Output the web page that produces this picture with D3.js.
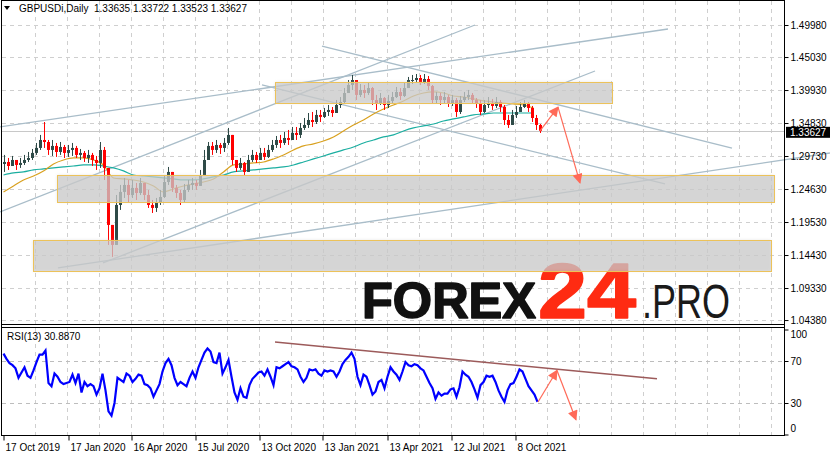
<!DOCTYPE html>
<html><head><meta charset="utf-8">
<script src="https://cdn.jsdelivr.net/npm/d3@7/dist/d3.min.js"></script>
<style>
body{margin:0;background:#fff}
svg{display:block}
text{font-family:"Liberation Sans",Arial,sans-serif}
</style>
</head><body>
<svg id="c" width="830" height="456"></svg>
<script>
// ---------------- DATA ----------------
const symbol = "GBPUSDi,Daily";
const lastBar = [1.33635, 1.33722, 1.33523, 1.33627];
const rsiLabel = "RSI(13) 30.8870";
const barsPerCandle = 4;
const firstOpen = 1.2850;
const closes = [
1.2881,1.2819,1.2912,1.2835,1.2866,1.2912,1.2943,1.3021,1.3098,1.3221,
1.3190,1.3067,1.3129,1.3036,1.3113,1.3021,1.3067,1.3098,1.2990,1.3021,
1.2943,1.2990,1.2912,1.2866,1.3067,1.2789,1.1908,1.1599,1.2217,1.2418,
1.2526,1.2371,1.2480,1.2402,1.2557,1.2371,1.2217,1.2171,1.2248,1.2340,
1.2572,1.2727,1.2480,1.2402,1.2294,1.2449,1.2526,1.2557,1.2511,1.2680,
1.2912,1.3129,1.3067,1.3144,1.3098,1.3175,1.3299,1.2912,1.2789,1.2866,
1.2727,1.2912,1.2990,1.2912,1.3021,1.2959,1.3067,1.3144,1.3221,1.3175,
1.3252,1.3221,1.3330,1.3299,1.3407,1.3453,1.3530,1.3499,1.3608,1.3577,
1.3654,1.3685,1.3638,1.3762,1.3808,1.3947,1.4071,1.4148,1.3917,1.3994,
1.3947,1.4024,1.3839,1.3793,1.3870,1.3762,1.3824,1.3885,1.3963,1.3901,
1.4024,1.4148,1.4148,1.4179,1.4117,1.4164,1.4055,1.3839,1.3901,1.3839,
1.3885,1.3793,1.3839,1.3654,1.3839,1.3885,1.3917,1.3839,1.3793,1.3654,
1.3762,1.3793,1.3747,1.3808,1.3731,1.3530,1.3453,1.3608,1.3654,1.3731,
1.3777,1.3716,1.3561,1.3453,1.33627];
const highs = [
1.2990,1.2943,1.2974,1.2912,1.2943,1.2990,1.3036,1.3082,1.3175,1.3299,
1.3499,1.3221,1.3221,1.3175,1.3190,1.3144,1.3144,1.3175,1.3129,1.3082,
1.3051,1.3067,1.3021,1.2974,1.3190,1.3113,1.2603,1.1831,1.2371,1.2526,
1.2634,1.2603,1.2603,1.2557,1.2634,1.2526,1.2449,1.2294,1.2325,1.2449,
1.2680,1.2804,1.2727,1.2526,1.2449,1.2541,1.2603,1.2634,1.2603,1.2758,
1.3067,1.3190,1.3190,1.3221,1.3175,1.3252,1.3407,1.3299,1.2912,1.2943,
1.2881,1.2990,1.3067,1.3036,1.3098,1.3098,1.3144,1.3221,1.3283,1.3299,
1.3345,1.3376,1.3422,1.3422,1.3484,1.3561,1.3638,1.3654,1.3685,1.3685,
1.3716,1.3762,1.3731,1.3839,1.3885,1.4024,1.4148,1.4226,1.4148,1.4086,
1.4071,1.4102,1.4040,1.3917,1.3947,1.3885,1.3917,1.3963,1.4040,1.4024,
1.4117,1.4195,1.4226,1.4241,1.4226,1.4241,1.4210,1.4071,1.3963,1.3947,
1.3963,1.3917,1.3917,1.3870,1.3901,1.3963,1.3994,1.3947,1.3870,1.3839,
1.3839,1.3885,1.3855,1.3885,1.3839,1.3762,1.3608,1.3685,1.3747,1.3808,
1.3839,1.3808,1.3747,1.3608,1.3468];
const lows = [
1.2727,1.2758,1.2819,1.2758,1.2789,1.2835,1.2881,1.2912,1.2990,1.3067,
1.3098,1.2990,1.2974,1.2959,1.2990,1.2943,1.2959,1.2974,1.2943,1.2912,
1.2881,1.2866,1.2819,1.2758,1.2789,1.2603,1.1599,1.1414,1.1676,1.2140,
1.2325,1.2248,1.2325,1.2294,1.2371,1.2294,1.2171,1.2093,1.2109,1.2217,
1.2325,1.2526,1.2418,1.2325,1.2217,1.2248,1.2418,1.2449,1.2449,1.2511,
1.2680,1.2912,1.2990,1.3021,1.3005,1.3036,1.3144,1.2835,1.2727,1.2758,
1.2680,1.2727,1.2881,1.2866,1.2912,1.2912,1.2943,1.3036,1.3098,1.3098,
1.3144,1.3144,1.3221,1.3221,1.3252,1.3376,1.3407,1.3422,1.3468,1.3499,
1.3561,1.3592,1.3577,1.3654,1.3716,1.3777,1.3963,1.3994,1.3839,1.3885,
1.3870,1.3917,1.3762,1.3685,1.3762,1.3685,1.3716,1.3793,1.3870,1.3839,
1.3885,1.4024,1.4086,1.4102,1.4071,1.4086,1.3994,1.3777,1.3793,1.3762,
1.3777,1.3731,1.3747,1.3577,1.3623,1.3808,1.3839,1.3777,1.3716,1.3608,
1.3638,1.3716,1.3685,1.3716,1.3654,1.3453,1.3407,1.3530,1.3561,1.3654,
1.3716,1.3654,1.3499,1.3376,1.3329];
const maStep = 10;
const maFast = [
1.2418,1.2510,1.2603,1.2665,1.2743,1.2850,1.2912,1.2943,1.2943,1.2912,
1.2835,1.2634,1.2619,1.2603,1.2572,1.2510,1.2418,1.2464,1.2510,1.2541,
1.2572,1.2619,1.2727,1.2835,1.2850,1.2866,1.2881,1.2928,1.2990,1.3067,
1.3129,1.3160,1.3206,1.3268,1.3360,1.3453,1.3530,1.3623,1.3700,1.3762,
1.3824,1.3901,1.3947,1.3963,1.3947,1.3901,1.3885,1.3855,1.3824,1.3808,
1.3793,1.3777,1.3762,1.3716];
const maSlow = [
1.2680,1.2712,1.2727,1.2758,1.2773,1.2789,1.2804,1.2819,1.2835,1.2835,
1.2819,1.2789,1.2743,1.2680,1.2665,1.2650,1.2634,1.2619,1.2603,1.2603,
1.2619,1.2650,1.2680,1.2727,1.2743,1.2758,1.2773,1.2789,1.2804,1.2835,
1.2881,1.2928,1.2974,1.3021,1.3067,1.3113,1.3175,1.3221,1.3268,1.3299,
1.3360,1.3407,1.3438,1.3468,1.3515,1.3546,1.3577,1.3608,1.3623,1.3638,
1.3638,1.3638,1.3638,1.3638];
const rsiStep = 3;
const rsiValues = [
77,72,68,66,63,54,59,64,56,54, 61,69,76,76,80,49,46,58,55,50,
48,49,50,57,49,58,40,50,46,48, 46,38,44,58,42,22,18,30,54,52,
50,58,56,50,53,57,56,48,47,44, 36,42,48,60,68,72,66,54,47,50,
48,46,54,60,54,64,71,78,82,79, 69,68,78,58,64,71,55,40,33,44,
36,35,47,53,56,59,60,56,62,55, 47,64,63,65,67,69,65,64,62,55,
50,54,62,61,62,58,56,61,60,61, 60,55,60,67,71,74,78,72,55,47,
57,55,47,38,41,50,52,44,55,64, 60,57,52,60,69,66,65,67,66,63,
61,55,49,44,34,40,37,39,39,43, 44,36,45,60,57,55,50,43,35,47,
50,56,55,56,50,42,36,31,42,48, 49,55,62,60,53,46,42,38,31];
const priceTicks = [1.4998,1.4503,1.3993,1.3483,1.2973,1.2463,1.1953,1.1443,1.0933,1.0438];
const rsiTicks = [100,70,30,0];
const rsiLevels = [70,30];
const dateLabels = ["17 Oct 2019","17 Jan 2020","16 Apr 2020","15 Jul 2020","13 Oct 2020","13 Jan 2021","13 Apr 2021","12 Jul 2021","8 Oct 2021"];
const dateBars = [0,65,128,192,256,319,384,448,512];
// zones: [startBar, endBar, upperPrice, lowerPrice]
const zones = [[272,609,1.4117,1.3793],[54,771,1.2680,1.2263],[30,768,1.1676,1.1197]];
// trend lines: [[bar, price],[bar, price]]
const trendLines = [
 [[-3,1.3422],[665,1.4936]],
 [[-3,1.2109],[472,1.4998]],
 [[55,1.1243],[827,1.3020]],
 [[100,1.1321],[592,1.4287]],
 [[319,1.4673],[729,1.3097]],
 [[259,1.4071],[662,1.2541]]];
const rsiTrend = [[272,88],[654,53]];
const priceArrows = [[[537,1.3361],[555,1.3729]],[[555,1.3729],[577,1.2557]]];
const rsiArrows = [[[535,31],[554,61]],[[554,61],[573,14]]];

// ---------------- DRAW ----------------
const svg = d3.select("#c");
const W = 830, axisX = 784;
const x = d3.scaleLinear().domain([0,781]).range([3,784]);
const y = d3.scaleLinear().domain([1.0377,1.5369]).range([324,1]);
const yr = d3.scaleLinear().domain([0,100]).range([434.5,329.5]);
const gridC = "#cfcfcf";

const defs = svg.append("defs");
defs.append("clipPath").attr("id","mainClip").append("rect").attr("x",2).attr("y",1).attr("width",782).attr("height",323);
defs.append("clipPath").attr("id","rsiClip").append("rect").attr("x",2).attr("y",328).attr("width",782).attr("height",107);
const mk = defs.append("marker").attr("id","ah").attr("viewBox","0 0 10 10").attr("refX",9).attr("refY",5)
  .attr("markerWidth",11).attr("markerHeight",10).attr("markerUnits","userSpaceOnUse").attr("orient","auto");
mk.append("path").attr("d","M0,0 L10,5 L0,10 Z").attr("fill","#ff6a58");
const sh = defs.append("filter").attr("id","soft").attr("x","-5%").attr("y","-30%").attr("width","110%").attr("height","160%");
sh.append("feGaussianBlur").attr("stdDeviation",1.5);

// grid
const vGrid = d3.range(32, 781, 32);
const grid = svg.append("g");
grid.selectAll(".vg").data(vGrid).join("line")
  .attr("x1",d=>Math.round(x(d))+0.5).attr("x2",d=>Math.round(x(d))+0.5).attr("y1",1).attr("y2",324)
  .attr("stroke",gridC).attr("stroke-dasharray","4,4");
grid.selectAll(".vg2").data(vGrid).join("line")
  .attr("x1",d=>Math.round(x(d))+0.5).attr("x2",d=>Math.round(x(d))+0.5).attr("y1",328).attr("y2",435)
  .attr("stroke",gridC).attr("stroke-dasharray","4,4");
grid.selectAll(".hg").data(priceTicks).join("line")
  .attr("x1",2).attr("x2",axisX).attr("y1",d=>Math.round(y(d))+0.5).attr("y2",d=>Math.round(y(d))+0.5)
  .attr("stroke",gridC).attr("stroke-dasharray","4,4");
grid.selectAll(".rg").data(rsiLevels).join("line")
  .attr("x1",2).attr("x2",axisX).attr("y1",d=>Math.round(yr(d))+0.5).attr("y2",d=>Math.round(yr(d))+0.5)
  .attr("stroke","#bdbdbd").attr("stroke-dasharray","4,4");

// logo
const logo = svg.append("g");
logo.append("text").attr("x",362).attr("y",318).attr("font-size",50).attr("font-weight",900)
  .attr("font-family","Lato, Roboto, 'Open Sans', sans-serif").attr("fill","#111")
  .attr("stroke","#111").attr("stroke-width",1.6).attr("stroke-linejoin","round")
  .attr("textLength",174).attr("lengthAdjust","spacingAndGlyphs").text("FOREX");
logo.append("text").attr("x",538).attr("y",318).attr("font-size",78).attr("font-weight",900)
  .attr("font-family","Lato, Roboto, 'Open Sans', sans-serif").attr("fill","#ff2b12")
  .attr("stroke","#ff2b12").attr("stroke-width",1.6).attr("stroke-linejoin","round")
  .attr("textLength",98).attr("lengthAdjust","spacingAndGlyphs").text("24");
logo.append("text").attr("x",642).attr("y",318).attr("font-size",49).attr("font-weight",300)
  .attr("font-family","Lato, Roboto, 'Open Sans', sans-serif").attr("fill","#1a1a1a")
  .attr("textLength",88).attr("lengthAdjust","spacingAndGlyphs").text(".PRO");

// bid line
svg.append("line").attr("x1",2).attr("x2",axisX).attr("y1",Math.round(y(lastBar[3]))+0.5).attr("y2",Math.round(y(lastBar[3]))+0.5)
  .attr("stroke","#c8c8c8");

// trend lines
const tl = svg.append("g");
tl.selectAll("line").data(trendLines).join("line")
  .attr("x1",d=>x(d[0][0])).attr("y1",d=>y(d[0][1])).attr("x2",d=>x(d[1][0])).attr("y2",d=>y(d[1][1]))
  .attr("stroke","#a9bdc9").attr("stroke-width",1.3);

// moving averages
const main = svg.append("g").attr("clip-path","url(#mainClip)");
const maLine = d3.line().x((d,i)=>x(i*maStep)+0.5).y(d=>y(d)).curve(d3.curveMonotoneX);
main.append("path").attr("d",maLine(maSlow)).attr("fill","none").attr("stroke","#1aaea0").attr("stroke-width",1.2);
main.append("path").attr("d",maLine(maFast)).attr("fill","none").attr("stroke","#d9a11f").attr("stroke-width",1.2);

// candles
const candles = closes.map((c,k)=>{
  const o = k===0 ? firstOpen : closes[k-1];
  return {k, o, c, h: Math.max(highs[k],o,c), l: Math.min(lows[k],o,c)};
});
const cg = main.append("g");
cg.selectAll(".w").data(candles).join("line")
  .attr("x1",d=>x(d.k*barsPerCandle)+1.5).attr("x2",d=>x(d.k*barsPerCandle)+1.5)
  .attr("y1",d=>y(d.h)).attr("y2",d=>y(d.l))
  .attr("stroke",d=>d.c>=d.o?"#2e4a47":"#ff0000").attr("stroke-width",1);
cg.selectAll(".b").data(candles).join("rect")
  .attr("x",d=>x(d.k*barsPerCandle)).attr("width",3)
  .attr("y",d=>y(Math.max(d.o,d.c))).attr("height",d=>Math.max(1,Math.abs(y(d.o)-y(d.c))))
  .attr("fill",d=>d.c>=d.o?"#2e4a47":"#ff0000");

// zones
const zg = svg.append("g");
zg.selectAll(".zs").data(zones).join("rect")
  .attr("x",d=>x(d[0])).attr("y",d=>y(d[2])).attr("width",d=>x(d[1])-x(d[0])).attr("height",d=>y(d[3])-y(d[2]))
  .attr("fill","#bdbdbd").attr("opacity",0.35).attr("filter","url(#soft)");
zg.selectAll(".z").data(zones).join("rect")
  .attr("x",d=>x(d[0])+0.5).attr("y",d=>Math.round(y(d[2]))+0.5).attr("width",d=>x(d[1])-x(d[0])).attr("height",d=>Math.round(y(d[3])-y(d[2])))
  .attr("fill","#cbcbcb").attr("fill-opacity",0.65).attr("stroke","#ecc25a").attr("stroke-width",1);

// price arrows
svg.append("g").selectAll("line").data(priceArrows).join("line")
  .attr("x1",d=>x(d[0][0])).attr("y1",d=>y(d[0][1])).attr("x2",d=>x(d[1][0])).attr("y2",d=>y(d[1][1]))
  .attr("stroke","#ff6a58").attr("stroke-width",1.2).attr("marker-end","url(#ah)");

// RSI
const rsiG = svg.append("g").attr("clip-path","url(#rsiClip)");
rsiG.append("line").attr("x1",x(rsiTrend[0][0])).attr("y1",yr(rsiTrend[0][1])).attr("x2",x(rsiTrend[1][0])).attr("y2",yr(rsiTrend[1][1]))
  .attr("stroke","#9c5a5a").attr("stroke-width",1.5);
const rsiLine = d3.line().x((d,i)=>x(i*rsiStep)+0.5).y(d=>yr(d));
rsiG.append("path").attr("d",rsiLine(rsiValues)).attr("fill","none").attr("stroke","#0000ff").attr("stroke-width",2.2).attr("stroke-linejoin","miter");
svg.append("g").selectAll("line").data(rsiArrows).join("line")
  .attr("x1",d=>x(d[0][0])).attr("y1",d=>yr(d[0][1])).attr("x2",d=>x(d[1][0])).attr("y2",d=>yr(d[1][1]))
  .attr("stroke","#ff6a58").attr("stroke-width",1.2).attr("marker-end","url(#ah)");

// frame
const fr = svg.append("g").attr("stroke","#000").attr("fill","none");
fr.append("line").attr("x1",1.5).attr("x2",1.5).attr("y1",0).attr("y2",436);
fr.append("line").attr("x1",1).attr("x2",axisX).attr("y1",0.5).attr("y2",0.5);
fr.append("line").attr("x1",1).attr("x2",axisX).attr("y1",324.5).attr("y2",324.5);
fr.append("line").attr("x1",1).attr("x2",axisX).attr("y1",327.5).attr("y2",327.5);
fr.append("line").attr("x1",1).attr("x2",axisX).attr("y1",435.5).attr("y2",435.5);
fr.append("line").attr("x1",axisX+0.5).attr("x2",axisX+0.5).attr("y1",0).attr("y2",436);

// price axis
const pa = svg.append("g").attr("transform",`translate(${axisX+0.5},0)`)
  .call(d3.axisRight(y).tickValues(priceTicks).tickSize(4).tickPadding(2).tickFormat(d3.format(".5f")));
pa.select(".domain").remove();
pa.selectAll("text").attr("font-size",10).attr("font-family","'Liberation Sans',Arial,sans-serif").attr("fill","#000");
// current price label
const cy = y(lastBar[3]);
svg.append("rect").attr("x",axisX+2).attr("y",cy-4).attr("width",W-axisX-2).attr("height",11).attr("fill","#000");
svg.append("text").attr("x",axisX+6).attr("y",cy+5.5).attr("font-size",10).attr("fill","#fff").text(d3.format(".5f")(lastBar[3]));

// rsi axis
const ra = svg.append("g").attr("transform",`translate(${axisX+0.5},0)`)
  .call(d3.axisRight(yr).tickValues(rsiTicks).tickSize(4).tickPadding(2));
ra.select(".domain").remove();
ra.selectAll("text").attr("font-size",10).attr("font-family","'Liberation Sans',Arial,sans-serif").attr("fill","#000")
  .attr("y",d=>Math.min(Math.max(yr(d),334),428)-yr(d));

// date axis
const da = svg.append("g").attr("transform","translate(0,435.5)")
  .call(d3.axisBottom(x).tickValues(dateBars).tickSize(5).tickPadding(3).tickFormat((d,i)=>dateLabels[i]));
da.select(".domain").remove();
da.selectAll(".tick line").attr("transform","translate(0.5,0)");
da.selectAll("text").attr("text-anchor","start").attr("dx",2).attr("font-size",10)
  .attr("font-family","'Liberation Sans',Arial,sans-serif").attr("fill","#000");

// header
svg.append("path").attr("d","M4,6 L10,6 L7,10 Z").attr("fill","#000");
svg.append("text").attr("x",19).attr("y",12).attr("font-size",10).attr("fill","#000")
  .attr("xml:space","preserve").text(symbol + "  " + lastBar.map(d3.format(".5f")).join(" "));
svg.append("text").attr("x",7).attr("y",340).attr("font-size",10).attr("fill","#000").text(rsiLabel);
</script>
</body></html>
